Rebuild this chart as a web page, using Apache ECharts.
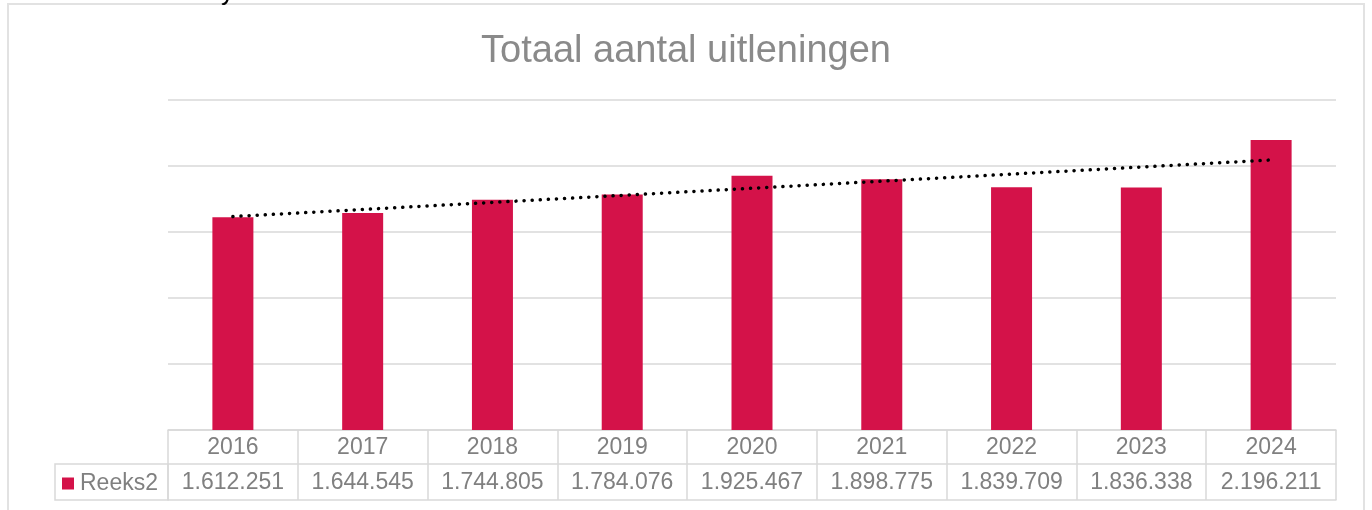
<!DOCTYPE html>
<html>
<head>
<meta charset="utf-8">
<script src="https://cdn.jsdelivr.net/npm/echarts@6/dist/echarts.min.js"></script>
<style>
  html, body { margin: 0; padding: 0; background: #fff; }
  #chart { width: 1372px; height: 510px; }
</style>
</head>
<body>
<div id="chart"></div>
<script>
const years = ['2016', '2017', '2018', '2019', '2020', '2021', '2022', '2023', '2024'];
const reeks2 = [1612251, 1644545, 1744805, 1784076, 1925467, 1898775, 1839709, 1836338, 2196211];
const yMax = 2500000;
const yStep = 500000;

const textGray = '#808080';
const lineGray = '#d9d9d9';
const font = 'Liberation Sans';

// 1.612.251 style
const fmt = (v) => String(v).replace(/\B(?=(\d{3})+(?!\d))/g, '.');

// linear trendline (least squares), like Excel's trendline
const n = reeks2.length;
const meanX = (n - 1) / 2;
const meanY = reeks2.reduce((a, b) => a + b, 0) / n;
let sxy = 0, sxx = 0;
reeks2.forEach((v, i) => {
  sxy += (i - meanX) * (v - meanY);
  sxx += (i - meanX) * (i - meanX);
});
const slope = sxy / sxx;
const trend = reeks2.map((v, i) => meanY + slope * (i - meanX));

const chart = echarts.init(document.getElementById('chart'));

const option = {
  animation: false,
  backgroundColor: '#fff',
  textStyle: { fontFamily: font },
  title: {
    text: 'Totaal aantal uitleningen',
    left: 'center',
    top: 28,
    textStyle: { color: '#8a8a8a', fontSize: 38, fontWeight: 'normal', fontFamily: font },
  },
  legend: {
    data: ['Reeks2'],
    left: 62,
    top: 472,
    padding: 0,
    icon: 'rect',
    itemWidth: 12,
    itemHeight: 12,
    itemGap: 0,
    textStyle: { color: textGray, fontSize: 23, fontFamily: font, padding: [0, 0, 0, 1] },
  },
  grid: { left: 168, right: 36, top: 100, bottom: 80 },
  xAxis: [
    {
      type: 'category',
      data: years,
      position: 'bottom',
      axisLine: { show: true, lineStyle: { color: lineGray, width: 1.5 } },
      axisTick: { show: true, length: 70, lineStyle: { color: lineGray, width: 1.5 } },
      axisLabel: { color: textGray, fontSize: 23, margin: 6, fontFamily: font, interval: 0 },
    },
    {
      type: 'category',
      data: years,
      position: 'bottom',
      offset: 34,
      axisLine: { show: true, lineStyle: { color: lineGray, width: 1.5 } },
      axisTick: { show: false },
      axisLabel: {
        color: textGray, fontSize: 23, margin: 7, fontFamily: font, interval: 0,
        formatter: (val, idx) => fmt(reeks2[idx]),
      },
    },
    {
      type: 'category',
      data: years,
      position: 'bottom',
      offset: 70,
      axisLine: { show: true, lineStyle: { color: lineGray, width: 1.5 } },
      axisTick: { show: false },
      axisLabel: { show: false },
    },
  ],
  yAxis: {
    type: 'value',
    min: 0,
    max: yMax,
    interval: yStep,
    axisLine: { show: false },
    axisTick: { show: false },
    axisLabel: { show: false },
    splitLine: { show: true, lineStyle: { color: lineGray, width: 1.5 } },
  },
  series: [
    {
      name: 'Reeks2',
      type: 'bar',
      data: reeks2,
      barWidth: 41,
      itemStyle: { color: '#d41249' },
    },
    {
      name: 'Trend',
      type: 'line',
      data: trend,
      symbol: 'none',
      z: 5,
      lineStyle: { color: '#000', width: 3.5, type: [0.1, 8], cap: 'round' },
    },
  ],
  graphic: [
    // outer chart frame
    {
      type: 'rect',
      shape: { x: 8, y: 4, width: 1356, height: 600 },
      style: { fill: 'none', stroke: '#e2e2e2', lineWidth: 2 },
      silent: true,
    },
    // legend key cell of the data table
    {
      type: 'rect',
      shape: { x: 55, y: 464, width: 113, height: 36 },
      style: { fill: 'none', stroke: lineGray, lineWidth: 1.5 },
      silent: true,
    },
    // cut-off text above the frame
    {
      type: 'text',
      x: 221,
      y: -20,
      z: 10,
      style: { text: 'y', font: '26px Liberation Sans', fill: '#000' },
      silent: true,
    },
  ],
};

chart.setOption(option);
</script>
</body>
</html>
